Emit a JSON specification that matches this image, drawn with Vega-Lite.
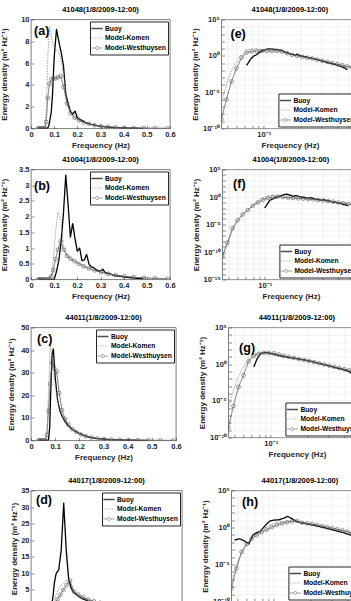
{
"$schema":"https://vega.github.io/schema/vega-lite/v6.json",
"padding":{"left":0,"top":5.5,"right":0,"bottom":0},
"config":{
 "background":"#ffffff",
 "font":"Liberation Sans",
 "view":{"stroke":"#262626","strokeWidth":0.6},
 "title":{"font":"Liberation Sans","fontSize":7.5,"fontWeight":"bold","color":"#000000","offset":2,"anchor":"middle","frame":"group"},
 "axis":{"labelFont":"Liberation Sans","labelFontSize":7.5,"labelFontWeight":"bold","labelColor":"#262626","titleFont":"Liberation Sans","titleFontSize":8,"titleFontWeight":"bold","titleColor":"#262626","domain":false,"ticks":true,"tickColor":"#262626","tickSize":-3,"tickWidth":0.5,"labelPadding":5,"labelFlush":false,"labelOverlap":false,"grid":false,"gridColor":"#e2e2e2","gridWidth":0.5,"tickCount":40},
 "axisX":{"titlePadding":3},
 "legend":{"labelFont":"Liberation Sans","labelFontSize":6.7,"labelFontWeight":"bold","labelColor":"#000000","padding":2,"offset":2,"strokeColor":"#262626","fillColor":"#ffffff","symbolSize":64,"symbolStrokeWidth":0.8,"rowPadding":1,"labelOffset":3}
},
"datasets":{
"st41048":[
{"s":"Buoy","f":0.0325,"E":0},{"s":"Buoy","f":0.0375,"E":0},{"s":"Buoy","f":0.0425,"E":0},{"s":"Buoy","f":0.0475,"E":0},{"s":"Buoy","f":0.0525,"E":0},{"s":"Buoy","f":0.0575,"E":0},{"s":"Buoy","f":0.0625,"E":0},{"s":"Buoy","f":0.0675,"E":0},{"s":"Buoy","f":0.0725,"E":0.05},{"s":"Buoy","f":0.0775,"E":0.3},{"s":"Buoy","f":0.0825,"E":0.9},{"s":"Buoy","f":0.0875,"E":1.5},{"s":"Buoy","f":0.0925,"E":3},{"s":"Buoy","f":0.1,"E":6.5},{"s":"Buoy","f":0.11,"E":9.1},{"s":"Buoy","f":0.12,"E":8},{"s":"Buoy","f":0.13,"E":7},{"s":"Buoy","f":0.14,"E":5.8},{"s":"Buoy","f":0.15,"E":3.2},{"s":"Buoy","f":0.16,"E":2.3},{"s":"Buoy","f":0.17,"E":1.6},{"s":"Buoy","f":0.18,"E":1.3},{"s":"Buoy","f":0.19,"E":1.6},{"s":"Buoy","f":0.2,"E":1},{"s":"Buoy","f":0.21,"E":0.85},{"s":"Buoy","f":0.22,"E":0.75},{"s":"Buoy","f":0.23,"E":0.6},{"s":"Buoy","f":0.24,"E":0.5},{"s":"Buoy","f":0.25,"E":0.45},{"s":"Buoy","f":0.26,"E":0.38},{"s":"Buoy","f":0.27,"E":0.33},{"s":"Buoy","f":0.28,"E":0.28},{"s":"Buoy","f":0.29,"E":0.24},{"s":"Buoy","f":0.3,"E":0.2},{"s":"Buoy","f":0.31,"E":0.18},{"s":"Buoy","f":0.32,"E":0.15},{"s":"Buoy","f":0.33,"E":0.13},{"s":"Buoy","f":0.34,"E":0.11},{"s":"Buoy","f":0.35,"E":0.1},{"s":"Buoy","f":0.365,"E":0.085},{"s":"Buoy","f":0.385,"E":0.065},{"s":"Buoy","f":0.405,"E":0.05},{"s":"Buoy","f":0.425,"E":0.038},{"s":"Buoy","f":0.445,"E":0.028},{"s":"Buoy","f":0.465,"E":0.02},{"s":"Buoy","f":0.485,"E":0.012},
{"s":"Model-Komen","f":0.0307,"E":1e-13},{"s":"Model-Komen","f":0.0338,"E":1e-12},{"s":"Model-Komen","f":0.0371,"E":1e-10},{"s":"Model-Komen","f":0.0409,"E":1e-8},{"s":"Model-Komen","f":0.0449,"E":3e-7},{"s":"Model-Komen","f":0.0494,"E":1e-4},{"s":"Model-Komen","f":0.0544,"E":0.01},{"s":"Model-Komen","f":0.0598,"E":0.15},{"s":"Model-Komen","f":0.0658,"E":1.5},{"s":"Model-Komen","f":0.0724,"E":6.5},{"s":"Model-Komen","f":0.0796,"E":9.4},{"s":"Model-Komen","f":0.0876,"E":8.5},{"s":"Model-Komen","f":0.0963,"E":7.6},{"s":"Model-Komen","f":0.106,"E":7.3},{"s":"Model-Komen","f":0.1166,"E":7.1},{"s":"Model-Komen","f":0.1282,"E":6.5},{"s":"Model-Komen","f":0.1411,"E":4.8},{"s":"Model-Komen","f":0.1552,"E":2.5},{"s":"Model-Komen","f":0.1707,"E":1.5},{"s":"Model-Komen","f":0.1878,"E":1.05},{"s":"Model-Komen","f":0.2065,"E":0.8},{"s":"Model-Komen","f":0.2272,"E":0.6},{"s":"Model-Komen","f":0.2499,"E":0.45},{"s":"Model-Komen","f":0.2749,"E":0.31},{"s":"Model-Komen","f":0.3024,"E":0.21},{"s":"Model-Komen","f":0.3326,"E":0.14},{"s":"Model-Komen","f":0.3659,"E":0.095},{"s":"Model-Komen","f":0.4025,"E":0.062},{"s":"Model-Komen","f":0.4427,"E":0.04},{"s":"Model-Komen","f":0.487,"E":0.027},{"s":"Model-Komen","f":0.5357,"E":0.018},{"s":"Model-Komen","f":0.5893,"E":0.012},
{"s":"Model-Westhuysen","f":0.0307,"E":1e-14},{"s":"Model-Westhuysen","f":0.0338,"E":1e-13},{"s":"Model-Westhuysen","f":0.0371,"E":1e-12},{"s":"Model-Westhuysen","f":0.0409,"E":1e-11},{"s":"Model-Westhuysen","f":0.0449,"E":2e-9},{"s":"Model-Westhuysen","f":0.0494,"E":1e-6},{"s":"Model-Westhuysen","f":0.0544,"E":3e-4},{"s":"Model-Westhuysen","f":0.0598,"E":0.02},{"s":"Model-Westhuysen","f":0.0658,"E":0.6},{"s":"Model-Westhuysen","f":0.0724,"E":2.8},{"s":"Model-Westhuysen","f":0.0796,"E":4.1},{"s":"Model-Westhuysen","f":0.0876,"E":4.5},{"s":"Model-Westhuysen","f":0.0963,"E":4.6},{"s":"Model-Westhuysen","f":0.106,"E":4.6},{"s":"Model-Westhuysen","f":0.1166,"E":4.7},{"s":"Model-Westhuysen","f":0.1282,"E":4.8},{"s":"Model-Westhuysen","f":0.1411,"E":3.8},{"s":"Model-Westhuysen","f":0.1552,"E":2.3},{"s":"Model-Westhuysen","f":0.1707,"E":1.4},{"s":"Model-Westhuysen","f":0.1878,"E":1},{"s":"Model-Westhuysen","f":0.2065,"E":0.75},{"s":"Model-Westhuysen","f":0.2272,"E":0.55},{"s":"Model-Westhuysen","f":0.2499,"E":0.42},{"s":"Model-Westhuysen","f":0.2749,"E":0.3},{"s":"Model-Westhuysen","f":0.3024,"E":0.21},{"s":"Model-Westhuysen","f":0.3326,"E":0.15},{"s":"Model-Westhuysen","f":0.3659,"E":0.1},{"s":"Model-Westhuysen","f":0.4025,"E":0.07},{"s":"Model-Westhuysen","f":0.4427,"E":0.05},{"s":"Model-Westhuysen","f":0.487,"E":0.035},{"s":"Model-Westhuysen","f":0.5357,"E":0.025},{"s":"Model-Westhuysen","f":0.5893,"E":0.018}
],
"st41004":[
{"s":"Buoy","f":0.0325,"E":0},{"s":"Buoy","f":0.0425,"E":0},{"s":"Buoy","f":0.0525,"E":0},{"s":"Buoy","f":0.0625,"E":0},{"s":"Buoy","f":0.0725,"E":0},{"s":"Buoy","f":0.0825,"E":0},{"s":"Buoy","f":0.0925,"E":0},{"s":"Buoy","f":0.1,"E":0.01},{"s":"Buoy","f":0.11,"E":0.25},{"s":"Buoy","f":0.12,"E":0.6},{"s":"Buoy","f":0.13,"E":1.2},{"s":"Buoy","f":0.14,"E":2.1},{"s":"Buoy","f":0.15,"E":3.32},{"s":"Buoy","f":0.16,"E":2.4},{"s":"Buoy","f":0.17,"E":1.35},{"s":"Buoy","f":0.18,"E":1.78},{"s":"Buoy","f":0.19,"E":1.3},{"s":"Buoy","f":0.2,"E":0.9},{"s":"Buoy","f":0.21,"E":1},{"s":"Buoy","f":0.22,"E":0.6},{"s":"Buoy","f":0.23,"E":0.62},{"s":"Buoy","f":0.24,"E":0.8},{"s":"Buoy","f":0.25,"E":0.5},{"s":"Buoy","f":0.26,"E":0.4},{"s":"Buoy","f":0.27,"E":0.38},{"s":"Buoy","f":0.28,"E":0.32},{"s":"Buoy","f":0.29,"E":0.28},{"s":"Buoy","f":0.3,"E":0.27},{"s":"Buoy","f":0.31,"E":0.33},{"s":"Buoy","f":0.32,"E":0.22},{"s":"Buoy","f":0.33,"E":0.2},{"s":"Buoy","f":0.34,"E":0.18},{"s":"Buoy","f":0.35,"E":0.15},{"s":"Buoy","f":0.365,"E":0.12},{"s":"Buoy","f":0.385,"E":0.1},{"s":"Buoy","f":0.405,"E":0.08},{"s":"Buoy","f":0.425,"E":0.06},{"s":"Buoy","f":0.445,"E":0.045},{"s":"Buoy","f":0.465,"E":0.035},{"s":"Buoy","f":0.485,"E":0.025},
{"s":"Model-Komen","f":0.0307,"E":1e-16},{"s":"Model-Komen","f":0.0338,"E":1e-15},{"s":"Model-Komen","f":0.0371,"E":1e-14},{"s":"Model-Komen","f":0.0409,"E":1e-13},{"s":"Model-Komen","f":0.0449,"E":1e-11},{"s":"Model-Komen","f":0.0494,"E":3e-9},{"s":"Model-Komen","f":0.0544,"E":1e-6},{"s":"Model-Komen","f":0.0598,"E":4e-5},{"s":"Model-Komen","f":0.0658,"E":6e-4},{"s":"Model-Komen","f":0.0724,"E":0.004},{"s":"Model-Komen","f":0.0796,"E":0.03},{"s":"Model-Komen","f":0.0876,"E":0.15},{"s":"Model-Komen","f":0.0963,"E":0.6},{"s":"Model-Komen","f":0.106,"E":1.5},{"s":"Model-Komen","f":0.1166,"E":2.15},{"s":"Model-Komen","f":0.1282,"E":1.9},{"s":"Model-Komen","f":0.1411,"E":1.05},{"s":"Model-Komen","f":0.1552,"E":0.8},{"s":"Model-Komen","f":0.1707,"E":0.68},{"s":"Model-Komen","f":0.1878,"E":0.6},{"s":"Model-Komen","f":0.2065,"E":0.52},{"s":"Model-Komen","f":0.2272,"E":0.44},{"s":"Model-Komen","f":0.2499,"E":0.37},{"s":"Model-Komen","f":0.2749,"E":0.3},{"s":"Model-Komen","f":0.3024,"E":0.24},{"s":"Model-Komen","f":0.3326,"E":0.18},{"s":"Model-Komen","f":0.3659,"E":0.13},{"s":"Model-Komen","f":0.4025,"E":0.095},{"s":"Model-Komen","f":0.4427,"E":0.068},{"s":"Model-Komen","f":0.487,"E":0.048},{"s":"Model-Komen","f":0.5357,"E":0.033},{"s":"Model-Komen","f":0.5893,"E":0.022},
{"s":"Model-Westhuysen","f":0.0307,"E":1e-16},{"s":"Model-Westhuysen","f":0.0338,"E":1e-15},{"s":"Model-Westhuysen","f":0.0371,"E":1e-14},{"s":"Model-Westhuysen","f":0.0409,"E":1e-13},{"s":"Model-Westhuysen","f":0.0449,"E":2e-11},{"s":"Model-Westhuysen","f":0.0494,"E":5e-9},{"s":"Model-Westhuysen","f":0.0544,"E":2e-6},{"s":"Model-Westhuysen","f":0.0598,"E":6e-5},{"s":"Model-Westhuysen","f":0.0658,"E":7e-4},{"s":"Model-Westhuysen","f":0.0724,"E":0.004},{"s":"Model-Westhuysen","f":0.0796,"E":0.025},{"s":"Model-Westhuysen","f":0.0876,"E":0.1},{"s":"Model-Westhuysen","f":0.0963,"E":0.3},{"s":"Model-Westhuysen","f":0.106,"E":0.65},{"s":"Model-Westhuysen","f":0.1166,"E":0.95},{"s":"Model-Westhuysen","f":0.1282,"E":1.22},{"s":"Model-Westhuysen","f":0.1411,"E":0.95},{"s":"Model-Westhuysen","f":0.1552,"E":0.75},{"s":"Model-Westhuysen","f":0.1707,"E":0.66},{"s":"Model-Westhuysen","f":0.1878,"E":0.58},{"s":"Model-Westhuysen","f":0.2065,"E":0.5},{"s":"Model-Westhuysen","f":0.2272,"E":0.42},{"s":"Model-Westhuysen","f":0.2499,"E":0.35},{"s":"Model-Westhuysen","f":0.2749,"E":0.29},{"s":"Model-Westhuysen","f":0.3024,"E":0.23},{"s":"Model-Westhuysen","f":0.3326,"E":0.18},{"s":"Model-Westhuysen","f":0.3659,"E":0.14},{"s":"Model-Westhuysen","f":0.4025,"E":0.1},{"s":"Model-Westhuysen","f":0.4427,"E":0.075},{"s":"Model-Westhuysen","f":0.487,"E":0.055},{"s":"Model-Westhuysen","f":0.5357,"E":0.038},{"s":"Model-Westhuysen","f":0.5893,"E":0.025}
],
"st44011":[
{"s":"Buoy","f":0.0325,"E":0},{"s":"Buoy","f":0.0425,"E":0},{"s":"Buoy","f":0.0525,"E":0},{"s":"Buoy","f":0.0625,"E":0},{"s":"Buoy","f":0.0675,"E":0},{"s":"Buoy","f":0.0725,"E":0.4},{"s":"Buoy","f":0.0775,"E":6},{"s":"Buoy","f":0.0825,"E":25},{"s":"Buoy","f":0.0875,"E":38},{"s":"Buoy","f":0.0925,"E":40.5},{"s":"Buoy","f":0.1,"E":28},{"s":"Buoy","f":0.11,"E":18},{"s":"Buoy","f":0.12,"E":13},{"s":"Buoy","f":0.13,"E":10.5},{"s":"Buoy","f":0.14,"E":8.5},{"s":"Buoy","f":0.15,"E":7},{"s":"Buoy","f":0.16,"E":6},{"s":"Buoy","f":0.17,"E":5},{"s":"Buoy","f":0.18,"E":4.3},{"s":"Buoy","f":0.19,"E":3.7},{"s":"Buoy","f":0.2,"E":3.1},{"s":"Buoy","f":0.21,"E":2.6},{"s":"Buoy","f":0.22,"E":2.2},{"s":"Buoy","f":0.23,"E":1.8},{"s":"Buoy","f":0.24,"E":1.5},{"s":"Buoy","f":0.25,"E":1.3},{"s":"Buoy","f":0.26,"E":1.1},{"s":"Buoy","f":0.27,"E":0.95},{"s":"Buoy","f":0.28,"E":0.82},{"s":"Buoy","f":0.29,"E":0.7},{"s":"Buoy","f":0.3,"E":0.6},{"s":"Buoy","f":0.32,"E":0.45},{"s":"Buoy","f":0.34,"E":0.35},{"s":"Buoy","f":0.365,"E":0.26},{"s":"Buoy","f":0.385,"E":0.2},{"s":"Buoy","f":0.405,"E":0.15},{"s":"Buoy","f":0.425,"E":0.12},{"s":"Buoy","f":0.445,"E":0.09},{"s":"Buoy","f":0.465,"E":0.05},{"s":"Buoy","f":0.485,"E":0.03},
{"s":"Model-Komen","f":0.0307,"E":1e-14},{"s":"Model-Komen","f":0.0338,"E":1e-13},{"s":"Model-Komen","f":0.0371,"E":1e-11},{"s":"Model-Komen","f":0.0409,"E":1e-9},{"s":"Model-Komen","f":0.0449,"E":1e-6},{"s":"Model-Komen","f":0.0494,"E":3e-4},{"s":"Model-Komen","f":0.0544,"E":0.02},{"s":"Model-Komen","f":0.0598,"E":0.4},{"s":"Model-Komen","f":0.0658,"E":4},{"s":"Model-Komen","f":0.0724,"E":22},{"s":"Model-Komen","f":0.0796,"E":42},{"s":"Model-Komen","f":0.0876,"E":38},{"s":"Model-Komen","f":0.0963,"E":28},{"s":"Model-Komen","f":0.106,"E":20},{"s":"Model-Komen","f":0.1166,"E":15},{"s":"Model-Komen","f":0.1282,"E":11.5},{"s":"Model-Komen","f":0.1411,"E":9},{"s":"Model-Komen","f":0.1552,"E":6.8},{"s":"Model-Komen","f":0.1707,"E":5},{"s":"Model-Komen","f":0.1878,"E":3.7},{"s":"Model-Komen","f":0.2065,"E":2.6},{"s":"Model-Komen","f":0.2272,"E":1.8},{"s":"Model-Komen","f":0.2499,"E":1.25},{"s":"Model-Komen","f":0.2749,"E":0.87},{"s":"Model-Komen","f":0.3024,"E":0.6},{"s":"Model-Komen","f":0.3326,"E":0.41},{"s":"Model-Komen","f":0.3659,"E":0.28},{"s":"Model-Komen","f":0.4025,"E":0.19},{"s":"Model-Komen","f":0.4427,"E":0.13},{"s":"Model-Komen","f":0.487,"E":0.09},{"s":"Model-Komen","f":0.5357,"E":0.06},{"s":"Model-Komen","f":0.5893,"E":0.04},
{"s":"Model-Westhuysen","f":0.0307,"E":1e-15},{"s":"Model-Westhuysen","f":0.0338,"E":1e-14},{"s":"Model-Westhuysen","f":0.0371,"E":1e-13},{"s":"Model-Westhuysen","f":0.0409,"E":1e-11},{"s":"Model-Westhuysen","f":0.0449,"E":2e-9},{"s":"Model-Westhuysen","f":0.0494,"E":2e-6},{"s":"Model-Westhuysen","f":0.0544,"E":8e-4},{"s":"Model-Westhuysen","f":0.0598,"E":0.03},{"s":"Model-Westhuysen","f":0.0658,"E":2.5},{"s":"Model-Westhuysen","f":0.0724,"E":13},{"s":"Model-Westhuysen","f":0.0796,"E":25},{"s":"Model-Westhuysen","f":0.0876,"E":34.5},{"s":"Model-Westhuysen","f":0.0963,"E":32},{"s":"Model-Westhuysen","f":0.106,"E":30.5},{"s":"Model-Westhuysen","f":0.1166,"E":21},{"s":"Model-Westhuysen","f":0.1282,"E":13.5},{"s":"Model-Westhuysen","f":0.1411,"E":9.5},{"s":"Model-Westhuysen","f":0.1552,"E":7},{"s":"Model-Westhuysen","f":0.1707,"E":5},{"s":"Model-Westhuysen","f":0.1878,"E":3.8},{"s":"Model-Westhuysen","f":0.2065,"E":2.7},{"s":"Model-Westhuysen","f":0.2272,"E":1.9},{"s":"Model-Westhuysen","f":0.2499,"E":1.3},{"s":"Model-Westhuysen","f":0.2749,"E":0.9},{"s":"Model-Westhuysen","f":0.3024,"E":0.62},{"s":"Model-Westhuysen","f":0.3326,"E":0.43},{"s":"Model-Westhuysen","f":0.3659,"E":0.3},{"s":"Model-Westhuysen","f":0.4025,"E":0.21},{"s":"Model-Westhuysen","f":0.4427,"E":0.15},{"s":"Model-Westhuysen","f":0.487,"E":0.1},{"s":"Model-Westhuysen","f":0.5357,"E":0.07},{"s":"Model-Westhuysen","f":0.5893,"E":0.05}
],
"st44017":[
{"s":"Buoy","f":0.0325,"E":0},{"s":"Buoy","f":0.0425,"E":0},{"s":"Buoy","f":0.0475,"E":0.02},{"s":"Buoy","f":0.0525,"E":0.03},{"s":"Buoy","f":0.0575,"E":0.015},{"s":"Buoy","f":0.0625,"E":0.006},{"s":"Buoy","f":0.0675,"E":0.1},{"s":"Buoy","f":0.0725,"E":0.2},{"s":"Buoy","f":0.0775,"E":0.3},{"s":"Buoy","f":0.0825,"E":1},{"s":"Buoy","f":0.0875,"E":3},{"s":"Buoy","f":0.0925,"E":7},{"s":"Buoy","f":0.1,"E":10},{"s":"Buoy","f":0.11,"E":11},{"s":"Buoy","f":0.12,"E":17},{"s":"Buoy","f":0.13,"E":31.2},{"s":"Buoy","f":0.14,"E":17},{"s":"Buoy","f":0.15,"E":8},{"s":"Buoy","f":0.16,"E":5.5},{"s":"Buoy","f":0.17,"E":4.2},{"s":"Buoy","f":0.18,"E":3.6},{"s":"Buoy","f":0.19,"E":3},{"s":"Buoy","f":0.2,"E":2.5},{"s":"Buoy","f":0.21,"E":2.2},{"s":"Buoy","f":0.22,"E":1.85},{"s":"Buoy","f":0.23,"E":1.55},{"s":"Buoy","f":0.24,"E":1.3},{"s":"Buoy","f":0.25,"E":1.1},{"s":"Buoy","f":0.26,"E":0.95},{"s":"Buoy","f":0.27,"E":0.82},{"s":"Buoy","f":0.28,"E":0.7},{"s":"Buoy","f":0.29,"E":0.6},{"s":"Buoy","f":0.3,"E":0.52},{"s":"Buoy","f":0.32,"E":0.4},{"s":"Buoy","f":0.34,"E":0.3},{"s":"Buoy","f":0.365,"E":0.22},{"s":"Buoy","f":0.385,"E":0.17},{"s":"Buoy","f":0.405,"E":0.13},{"s":"Buoy","f":0.425,"E":0.1},{"s":"Buoy","f":0.445,"E":0.08},{"s":"Buoy","f":0.465,"E":0.06},{"s":"Buoy","f":0.485,"E":0.045},
{"s":"Model-Komen","f":0.0307,"E":1e-14},{"s":"Model-Komen","f":0.0338,"E":1e-13},{"s":"Model-Komen","f":0.0371,"E":1e-12},{"s":"Model-Komen","f":0.0409,"E":1e-10},{"s":"Model-Komen","f":0.0449,"E":3e-8},{"s":"Model-Komen","f":0.0494,"E":1e-5},{"s":"Model-Komen","f":0.0544,"E":3e-4},{"s":"Model-Komen","f":0.0598,"E":0.004},{"s":"Model-Komen","f":0.0658,"E":0.03},{"s":"Model-Komen","f":0.0724,"E":0.12},{"s":"Model-Komen","f":0.0796,"E":0.45},{"s":"Model-Komen","f":0.0876,"E":1.2},{"s":"Model-Komen","f":0.0963,"E":2.8},{"s":"Model-Komen","f":0.106,"E":4.8},{"s":"Model-Komen","f":0.1166,"E":6.2},{"s":"Model-Komen","f":0.1282,"E":7},{"s":"Model-Komen","f":0.1411,"E":8.1},{"s":"Model-Komen","f":0.1552,"E":5.5},{"s":"Model-Komen","f":0.1707,"E":4},{"s":"Model-Komen","f":0.1878,"E":3.3},{"s":"Model-Komen","f":0.2065,"E":2.6},{"s":"Model-Komen","f":0.2272,"E":2},{"s":"Model-Komen","f":0.2499,"E":1.5},{"s":"Model-Komen","f":0.2749,"E":1.1},{"s":"Model-Komen","f":0.3024,"E":0.78},{"s":"Model-Komen","f":0.3326,"E":0.55},{"s":"Model-Komen","f":0.3659,"E":0.38},{"s":"Model-Komen","f":0.4025,"E":0.26},{"s":"Model-Komen","f":0.4427,"E":0.17},{"s":"Model-Komen","f":0.487,"E":0.11},{"s":"Model-Komen","f":0.5357,"E":0.075},{"s":"Model-Komen","f":0.5893,"E":0.05},
{"s":"Model-Westhuysen","f":0.0307,"E":1e-15},{"s":"Model-Westhuysen","f":0.0338,"E":1e-14},{"s":"Model-Westhuysen","f":0.0371,"E":1e-13},{"s":"Model-Westhuysen","f":0.0409,"E":1e-11},{"s":"Model-Westhuysen","f":0.0449,"E":6e-9},{"s":"Model-Westhuysen","f":0.0494,"E":3e-6},{"s":"Model-Westhuysen","f":0.0544,"E":5e-4},{"s":"Model-Westhuysen","f":0.0598,"E":0.006},{"s":"Model-Westhuysen","f":0.0658,"E":0.03},{"s":"Model-Westhuysen","f":0.0724,"E":0.09},{"s":"Model-Westhuysen","f":0.0796,"E":0.25},{"s":"Model-Westhuysen","f":0.0876,"E":0.5},{"s":"Model-Westhuysen","f":0.0963,"E":1.1},{"s":"Model-Westhuysen","f":0.106,"E":2.2},{"s":"Model-Westhuysen","f":0.1166,"E":3.5},{"s":"Model-Westhuysen","f":0.1282,"E":5},{"s":"Model-Westhuysen","f":0.1411,"E":6.5},{"s":"Model-Westhuysen","f":0.1552,"E":7.8},{"s":"Model-Westhuysen","f":0.1707,"E":4.5},{"s":"Model-Westhuysen","f":0.1878,"E":3.6},{"s":"Model-Westhuysen","f":0.2065,"E":2.8},{"s":"Model-Westhuysen","f":0.2272,"E":2.1},{"s":"Model-Westhuysen","f":0.2499,"E":1.55},{"s":"Model-Westhuysen","f":0.2749,"E":1.12},{"s":"Model-Westhuysen","f":0.3024,"E":0.8},{"s":"Model-Westhuysen","f":0.3326,"E":0.56},{"s":"Model-Westhuysen","f":0.3659,"E":0.39},{"s":"Model-Westhuysen","f":0.4025,"E":0.27},{"s":"Model-Westhuysen","f":0.4427,"E":0.18},{"s":"Model-Westhuysen","f":0.487,"E":0.12},{"s":"Model-Westhuysen","f":0.5357,"E":0.08},{"s":"Model-Westhuysen","f":0.5893,"E":0.055}
]
},
"resolve":{"scale":{"color":"independent","strokeDash":"independent","strokeWidth":"independent","shape":"independent"},"legend":{"color":"independent","strokeDash":"independent","strokeWidth":"independent","shape":"independent"}},
"spacing":6,
"vconcat":[
{"hconcat":[
 {"title":"41048(1/8/2009-12:00)","width":139,"height":109,"data":{"name":"st41048"},"layer":[
  {"mark":{"type":"line","clip":true,"strokeJoin":"round"},"encoding":{
   "x":{"field":"f","type":"quantitative","scale":{"domain":[0,0.6],"nice":false,"zero":false},"axis":{"values":[0,0.1,0.2,0.3,0.4,0.5,0.6],"tickCount":40,"labelExpr":"'' + datum.value","labelOverlap":false,"title":"Frequency (Hz)"}},
   "y":{"field":"E","type":"quantitative","scale":{"domain":[0,10],"nice":false},"axis":{"values":[0,2,4,6,8,10],"tickCount":40,"labelExpr":"'' + datum.value","labelOverlap":false,"title":"Energy density (m² Hz⁻¹)","titlePadding":11.7}},
   "color":{"field":"s","type":"nominal","scale":{"domain":["Buoy","Model-Komen","Model-Westhuysen"],"range":["#000000","#8c8c8c","#555555"]},"legend":{"orient":"top-right","title":null}},
   "strokeDash":{"field":"s","type":"nominal","scale":{"domain":["Buoy","Model-Komen","Model-Westhuysen"],"range":[[1,0],[1.5,1.2],[1,0]]},"legend":{"orient":"top-right","title":null}},
   "strokeWidth":{"field":"s","type":"nominal","scale":{"type":"ordinal","domain":["Buoy","Model-Komen","Model-Westhuysen"],"range":[1.3,0.8,0.8]},"legend":{"orient":"top-right","title":null}}}},
  {"transform":[{"filter":"datum.s == 'Model-Westhuysen'"}],"mark":{"type":"point","filled":false,"size":14,"strokeWidth":0.6,"color":"#555555","opacity":1,"clip":true},"encoding":{"x":{"field":"f","type":"quantitative"},"y":{"field":"E","type":"quantitative"}}},
  {"transform":[{"filter":"false"}],"mark":{"type":"point","filled":false},"encoding":{"x":{"field":"f","type":"quantitative"},"y":{"field":"E","type":"quantitative"},
   "color":{"field":"s","type":"nominal","scale":{"domain":["Buoy","Model-Komen","Model-Westhuysen"],"range":["#000000","#8c8c8c","#555555"]},"legend":{"orient":"top-right","title":null}},
   "shape":{"field":"s","type":"nominal","scale":{"domain":["Buoy","Model-Komen","Model-Westhuysen"],"range":["M-1.4,0H1.4","M-1.4,0H1.4","M-1.4,0H-0.38M0.38,0H1.4M0.38,0A0.38,0.38,0,1,1,-0.38,0A0.38,0.38,0,1,1,0.38,0"]},"legend":{"orient":"top-right","title":null}}}},
  {"data":{"values":[{"t":"(a)"}]},"mark":{"type":"text","font":"Liberation Sans","fontSize":12.5,"fontWeight":"bold","align":"left","baseline":"middle","color":"#000000"},"encoding":{"text":{"field":"t","type":"nominal"},"x":{"datum":0.013},"y":{"datum":8.9}}}
 ]},
 {"title":"41048(1/8/2009-12:00)","width":137,"height":109,"data":{"name":"st41048"},"layer":[
  {"transform":[{"filter":"datum.E > 0"}],"mark":{"type":"line","clip":true,"strokeJoin":"round"},"encoding":{
   "x":{"field":"f","type":"quantitative","scale":{"type":"log","domain":[0.0449,0.6],"nice":false},"axis":{"values":[0.05,0.06,0.07,0.08,0.09,0.1,0.2,0.3,0.4,0.5,0.6],"tickCount":40,"labelExpr":"datum.value == 0.1 ? '10⁻¹' : ''","labelOverlap":false,"grid":true,"title":"Frequency (Hz)"}},
   "y":{"field":"E","type":"quantitative","scale":{"type":"log","domain":[1e-10,100000],"nice":false},"axis":{"values":[100000,10000,1000,100,10,1,0.1,0.01,0.001,0.0001,1e-5,1e-6,1e-7,1e-8,1e-9,1e-10],"tickCount":40,"labelExpr":"abs(log(datum.value)/LN10 - 5) < 0.01 ? '10⁵' : (abs(log(datum.value)/LN10) < 0.01 ? '10⁰' : (abs(log(datum.value)/LN10 + 5) < 0.01 ? '10⁻⁵' : (abs(log(datum.value)/LN10 + 10) < 0.01 ? '10⁻¹⁰' : (abs(log(datum.value)/LN10 + 15) < 0.01 ? '10⁻¹⁵' : ''))))","labelOverlap":false,"grid":true,"title":"Energy density (m² Hz⁻¹)","titlePadding":2.7}},
   "color":{"field":"s","type":"nominal","scale":{"domain":["Buoy","Model-Komen","Model-Westhuysen"],"range":["#000000","#8c8c8c","#555555"]},"legend":{"orient":"bottom-right","title":null}},
   "strokeDash":{"field":"s","type":"nominal","scale":{"domain":["Buoy","Model-Komen","Model-Westhuysen"],"range":[[1,0],[1.5,1.2],[1,0]]},"legend":{"orient":"bottom-right","title":null}},
   "strokeWidth":{"field":"s","type":"nominal","scale":{"type":"ordinal","domain":["Buoy","Model-Komen","Model-Westhuysen"],"range":[1.3,0.8,0.8]},"legend":{"orient":"bottom-right","title":null}}}},
  {"transform":[{"filter":"datum.s == 'Model-Westhuysen' && datum.E > 0"}],"mark":{"type":"point","filled":false,"size":14,"strokeWidth":0.6,"color":"#555555","opacity":1,"clip":true},"encoding":{"x":{"field":"f","type":"quantitative"},"y":{"field":"E","type":"quantitative"}}},
  {"transform":[{"filter":"false"}],"mark":{"type":"point","filled":false},"encoding":{"x":{"field":"f","type":"quantitative"},"y":{"field":"E","type":"quantitative"},
   "color":{"field":"s","type":"nominal","scale":{"domain":["Buoy","Model-Komen","Model-Westhuysen"],"range":["#000000","#8c8c8c","#555555"]},"legend":{"orient":"bottom-right","title":null}},
   "shape":{"field":"s","type":"nominal","scale":{"domain":["Buoy","Model-Komen","Model-Westhuysen"],"range":["M-1.4,0H1.4","M-1.4,0H1.4","M-1.4,0H-0.38M0.38,0H1.4M0.38,0A0.38,0.38,0,1,1,-0.38,0A0.38,0.38,0,1,1,0.38,0"]},"legend":{"orient":"bottom-right","title":null}}}},
  {"data":{"values":[{"t":"(e)"}]},"mark":{"type":"text","font":"Liberation Sans","fontSize":12.5,"fontWeight":"bold","align":"left","baseline":"middle","color":"#000000"},"encoding":{"text":{"field":"t","type":"nominal"},"x":{"datum":0.0533},"y":{"datum":870}}}
 ]}
],"spacing":15.4,"resolve":{"scale":{"color":"independent","strokeDash":"independent","strokeWidth":"independent","shape":"independent"},"legend":{"color":"independent","strokeDash":"independent","strokeWidth":"independent","shape":"independent"}}},
{"vconcat":[
{"hconcat":[
 {"title":"41004(1/8/2009-12:00)","width":139,"height":110,"data":{"name":"st41004"},"layer":[
  {"mark":{"type":"line","clip":true,"strokeJoin":"round"},"encoding":{
   "x":{"field":"f","type":"quantitative","scale":{"domain":[0,0.6],"nice":false,"zero":false},"axis":{"values":[0,0.1,0.2,0.3,0.4,0.5,0.6],"tickCount":40,"labelExpr":"'' + datum.value","labelOverlap":false,"title":"Frequency (Hz)"}},
   "y":{"field":"E","type":"quantitative","scale":{"domain":[0,3.5],"nice":false},"axis":{"values":[0,0.5,1,1.5,2,2.5,3,3.5],"tickCount":40,"labelExpr":"'' + datum.value","labelOverlap":false,"title":"Energy density (m² Hz⁻¹)","titlePadding":9.6}},
   "color":{"field":"s","type":"nominal","scale":{"domain":["Buoy","Model-Komen","Model-Westhuysen"],"range":["#000000","#8c8c8c","#555555"]},"legend":{"orient":"top-right","title":null}},
   "strokeDash":{"field":"s","type":"nominal","scale":{"domain":["Buoy","Model-Komen","Model-Westhuysen"],"range":[[1,0],[1.5,1.2],[1,0]]},"legend":{"orient":"top-right","title":null}},
   "strokeWidth":{"field":"s","type":"nominal","scale":{"type":"ordinal","domain":["Buoy","Model-Komen","Model-Westhuysen"],"range":[1.3,0.8,0.8]},"legend":{"orient":"top-right","title":null}}}},
  {"transform":[{"filter":"datum.s == 'Model-Westhuysen'"}],"mark":{"type":"point","filled":false,"size":14,"strokeWidth":0.6,"color":"#555555","opacity":1,"clip":true},"encoding":{"x":{"field":"f","type":"quantitative"},"y":{"field":"E","type":"quantitative"}}},
  {"transform":[{"filter":"false"}],"mark":{"type":"point","filled":false},"encoding":{"x":{"field":"f","type":"quantitative"},"y":{"field":"E","type":"quantitative"},
   "color":{"field":"s","type":"nominal","scale":{"domain":["Buoy","Model-Komen","Model-Westhuysen"],"range":["#000000","#8c8c8c","#555555"]},"legend":{"orient":"top-right","title":null}},
   "shape":{"field":"s","type":"nominal","scale":{"domain":["Buoy","Model-Komen","Model-Westhuysen"],"range":["M-1.4,0H1.4","M-1.4,0H1.4","M-1.4,0H-0.38M0.38,0H1.4M0.38,0A0.38,0.38,0,1,1,-0.38,0A0.38,0.38,0,1,1,0.38,0"]},"legend":{"orient":"top-right","title":null}}}},
  {"data":{"values":[{"t":"(b)"}]},"mark":{"type":"text","font":"Liberation Sans","fontSize":12.5,"fontWeight":"bold","align":"left","baseline":"middle","color":"#000000"},"encoding":{"text":{"field":"t","type":"nominal"},"x":{"datum":0.013},"y":{"datum":2.97}}}
 ]},
 {"title":"41004(1/8/2009-12:00)","width":137,"height":110,"data":{"name":"st41004"},"layer":[
  {"transform":[{"filter":"datum.E > 0"}],"mark":{"type":"line","clip":true,"strokeJoin":"round"},"encoding":{
   "x":{"field":"f","type":"quantitative","scale":{"type":"log","domain":[0.0449,0.6],"nice":false},"axis":{"values":[0.05,0.06,0.07,0.08,0.09,0.1,0.2,0.3,0.4,0.5,0.6],"tickCount":40,"labelExpr":"datum.value == 0.1 ? '10⁻¹' : ''","labelOverlap":false,"grid":true,"title":"Frequency (Hz)"}},
   "y":{"field":"E","type":"quantitative","scale":{"type":"log","domain":[1e-15,100000],"nice":false},"axis":{"values":[100000,10000,1000,100,10,1,0.1,0.01,0.001,0.0001,1e-5,1e-6,1e-7,1e-8,1e-9,1e-10,1e-11,1e-12,1e-13,1e-14,1e-15],"tickCount":40,"labelExpr":"abs(log(datum.value)/LN10 - 5) < 0.01 ? '10⁵' : (abs(log(datum.value)/LN10) < 0.01 ? '10⁰' : (abs(log(datum.value)/LN10 + 5) < 0.01 ? '10⁻⁵' : (abs(log(datum.value)/LN10 + 10) < 0.01 ? '10⁻¹⁰' : (abs(log(datum.value)/LN10 + 15) < 0.01 ? '10⁻¹⁵' : ''))))","labelOverlap":false,"grid":true,"title":"Energy density (m² Hz⁻¹)","titlePadding":2.7}},
   "color":{"field":"s","type":"nominal","scale":{"domain":["Buoy","Model-Komen","Model-Westhuysen"],"range":["#000000","#8c8c8c","#555555"]},"legend":{"orient":"bottom-right","title":null}},
   "strokeDash":{"field":"s","type":"nominal","scale":{"domain":["Buoy","Model-Komen","Model-Westhuysen"],"range":[[1,0],[1.5,1.2],[1,0]]},"legend":{"orient":"bottom-right","title":null}},
   "strokeWidth":{"field":"s","type":"nominal","scale":{"type":"ordinal","domain":["Buoy","Model-Komen","Model-Westhuysen"],"range":[1.3,0.8,0.8]},"legend":{"orient":"bottom-right","title":null}}}},
  {"transform":[{"filter":"datum.s == 'Model-Westhuysen' && datum.E > 0"}],"mark":{"type":"point","filled":false,"size":14,"strokeWidth":0.6,"color":"#555555","opacity":1,"clip":true},"encoding":{"x":{"field":"f","type":"quantitative"},"y":{"field":"E","type":"quantitative"}}},
  {"transform":[{"filter":"false"}],"mark":{"type":"point","filled":false},"encoding":{"x":{"field":"f","type":"quantitative"},"y":{"field":"E","type":"quantitative"},
   "color":{"field":"s","type":"nominal","scale":{"domain":["Buoy","Model-Komen","Model-Westhuysen"],"range":["#000000","#8c8c8c","#555555"]},"legend":{"orient":"bottom-right","title":null}},
   "shape":{"field":"s","type":"nominal","scale":{"domain":["Buoy","Model-Komen","Model-Westhuysen"],"range":["M-1.4,0H1.4","M-1.4,0H1.4","M-1.4,0H-0.38M0.38,0H1.4M0.38,0A0.38,0.38,0,1,1,-0.38,0A0.38,0.38,0,1,1,0.38,0"]},"legend":{"orient":"bottom-right","title":null}}}},
  {"data":{"values":[{"t":"(f)"}]},"mark":{"type":"text","font":"Liberation Sans","fontSize":12.5,"fontWeight":"bold","align":"left","baseline":"middle","color":"#000000"},"encoding":{"text":{"field":"t","type":"nominal"},"x":{"datum":0.055},"y":{"datum":280}}}
 ]}
],"spacing":15.4,"resolve":{"scale":{"color":"independent","strokeDash":"independent","strokeWidth":"independent","shape":"independent"},"legend":{"color":"independent","strokeDash":"independent","strokeWidth":"independent","shape":"independent"}}},
{"vconcat":[
{"hconcat":[
 {"title":"44011(1/8/2009-12:00)","width":145,"height":113,"data":{"name":"st44011"},"layer":[
  {"mark":{"type":"line","clip":true,"strokeJoin":"round"},"encoding":{
   "x":{"field":"f","type":"quantitative","scale":{"domain":[0,0.6],"nice":false,"zero":false},"axis":{"values":[0,0.1,0.2,0.3,0.4,0.5,0.6],"tickCount":40,"labelExpr":"'' + datum.value","labelOverlap":false,"title":"Frequency (Hz)"}},
   "y":{"field":"E","type":"quantitative","scale":{"domain":[0,50],"nice":false},"axis":{"values":[0,10,20,30,40,50],"tickCount":40,"labelExpr":"'' + datum.value","labelOverlap":false,"title":"Energy density (m² Hz⁻¹)","titlePadding":4.7}},
   "color":{"field":"s","type":"nominal","scale":{"domain":["Buoy","Model-Komen","Model-Westhuysen"],"range":["#000000","#8c8c8c","#555555"]},"legend":{"orient":"top-right","title":null}},
   "strokeDash":{"field":"s","type":"nominal","scale":{"domain":["Buoy","Model-Komen","Model-Westhuysen"],"range":[[1,0],[1.5,1.2],[1,0]]},"legend":{"orient":"top-right","title":null}},
   "strokeWidth":{"field":"s","type":"nominal","scale":{"type":"ordinal","domain":["Buoy","Model-Komen","Model-Westhuysen"],"range":[1.3,0.8,0.8]},"legend":{"orient":"top-right","title":null}}}},
  {"transform":[{"filter":"datum.s == 'Model-Westhuysen'"}],"mark":{"type":"point","filled":false,"size":14,"strokeWidth":0.6,"color":"#555555","opacity":1,"clip":true},"encoding":{"x":{"field":"f","type":"quantitative"},"y":{"field":"E","type":"quantitative"}}},
  {"transform":[{"filter":"false"}],"mark":{"type":"point","filled":false},"encoding":{"x":{"field":"f","type":"quantitative"},"y":{"field":"E","type":"quantitative"},
   "color":{"field":"s","type":"nominal","scale":{"domain":["Buoy","Model-Komen","Model-Westhuysen"],"range":["#000000","#8c8c8c","#555555"]},"legend":{"orient":"top-right","title":null}},
   "shape":{"field":"s","type":"nominal","scale":{"domain":["Buoy","Model-Komen","Model-Westhuysen"],"range":["M-1.4,0H1.4","M-1.4,0H1.4","M-1.4,0H-0.38M0.38,0H1.4M0.38,0A0.38,0.38,0,1,1,-0.38,0A0.38,0.38,0,1,1,0.38,0"]},"legend":{"orient":"top-right","title":null}}}},
  {"data":{"values":[{"t":"(c)"}]},"mark":{"type":"text","font":"Liberation Sans","fontSize":12.5,"fontWeight":"bold","align":"left","baseline":"middle","color":"#000000"},"encoding":{"text":{"field":"t","type":"nominal"},"x":{"datum":0.025},"y":{"datum":44.9}}}
 ]},
 {"title":"44011(1/8/2009-12:00)","width":137,"height":110,"data":{"name":"st44011"},"layer":[
  {"transform":[{"filter":"datum.E > 0"}],"mark":{"type":"line","clip":true,"strokeJoin":"round"},"encoding":{
   "x":{"field":"f","type":"quantitative","scale":{"type":"log","domain":[0.0449,0.6],"nice":false},"axis":{"values":[0.05,0.06,0.07,0.08,0.09,0.1,0.2,0.3,0.4,0.5,0.6],"tickCount":40,"labelExpr":"datum.value == 0.1 ? '10⁻¹' : ''","labelOverlap":false,"grid":true,"title":"Frequency (Hz)"}},
   "y":{"field":"E","type":"quantitative","scale":{"type":"log","domain":[1e-10,100000],"nice":false},"axis":{"values":[100000,10000,1000,100,10,1,0.1,0.01,0.001,0.0001,1e-5,1e-6,1e-7,1e-8,1e-9,1e-10],"tickCount":40,"labelExpr":"abs(log(datum.value)/LN10 - 5) < 0.01 ? '10⁵' : (abs(log(datum.value)/LN10) < 0.01 ? '10⁰' : (abs(log(datum.value)/LN10 + 5) < 0.01 ? '10⁻⁵' : (abs(log(datum.value)/LN10 + 10) < 0.01 ? '10⁻¹⁰' : (abs(log(datum.value)/LN10 + 15) < 0.01 ? '10⁻¹⁵' : ''))))","labelOverlap":false,"grid":true,"title":"Energy density (m² Hz⁻¹)","titlePadding":2.7}},
   "color":{"field":"s","type":"nominal","scale":{"domain":["Buoy","Model-Komen","Model-Westhuysen"],"range":["#000000","#8c8c8c","#555555"]},"legend":{"orient":"bottom-right","title":null}},
   "strokeDash":{"field":"s","type":"nominal","scale":{"domain":["Buoy","Model-Komen","Model-Westhuysen"],"range":[[1,0],[1.5,1.2],[1,0]]},"legend":{"orient":"bottom-right","title":null}},
   "strokeWidth":{"field":"s","type":"nominal","scale":{"type":"ordinal","domain":["Buoy","Model-Komen","Model-Westhuysen"],"range":[1.3,0.8,0.8]},"legend":{"orient":"bottom-right","title":null}}}},
  {"transform":[{"filter":"datum.s == 'Model-Westhuysen' && datum.E > 0"}],"mark":{"type":"point","filled":false,"size":14,"strokeWidth":0.6,"color":"#555555","opacity":1,"clip":true},"encoding":{"x":{"field":"f","type":"quantitative"},"y":{"field":"E","type":"quantitative"}}},
  {"transform":[{"filter":"false"}],"mark":{"type":"point","filled":false},"encoding":{"x":{"field":"f","type":"quantitative"},"y":{"field":"E","type":"quantitative"},
   "color":{"field":"s","type":"nominal","scale":{"domain":["Buoy","Model-Komen","Model-Westhuysen"],"range":["#000000","#8c8c8c","#555555"]},"legend":{"orient":"bottom-right","title":null}},
   "shape":{"field":"s","type":"nominal","scale":{"domain":["Buoy","Model-Komen","Model-Westhuysen"],"range":["M-1.4,0H1.4","M-1.4,0H1.4","M-1.4,0H-0.38M0.38,0H1.4M0.38,0A0.38,0.38,0,1,1,-0.38,0A0.38,0.38,0,1,1,0.38,0"]},"legend":{"orient":"bottom-right","title":null}}}},
  {"data":{"values":[{"t":"(g)"}]},"mark":{"type":"text","font":"Liberation Sans","fontSize":12.5,"fontWeight":"bold","align":"left","baseline":"middle","color":"#000000"},"encoding":{"text":{"field":"t","type":"nominal"},"x":{"datum":0.055},"y":{"datum":186}}}
 ]}
],"spacing":16.4,"resolve":{"scale":{"color":"independent","strokeDash":"independent","strokeWidth":"independent","shape":"independent"},"legend":{"color":"independent","strokeDash":"independent","strokeWidth":"independent","shape":"independent"}}},
{"hconcat":[
 {"title":"44017(1/8/2009-12:00)","width":151,"height":116,"data":{"name":"st44017"},"layer":[
  {"mark":{"type":"line","clip":true,"strokeJoin":"round"},"encoding":{
   "x":{"field":"f","type":"quantitative","scale":{"domain":[0,0.6],"nice":false,"zero":false},"axis":{"values":[0,0.1,0.2,0.3,0.4,0.5,0.6],"tickCount":40,"labelExpr":"'' + datum.value","labelOverlap":false,"title":"Frequency (Hz)"}},
   "y":{"field":"E","type":"quantitative","scale":{"domain":[0,35],"nice":false},"axis":{"values":[0,5,10,15,20,25,30,35],"tickCount":40,"labelExpr":"'' + datum.value","labelOverlap":false,"title":"Energy density (m² Hz⁻¹)","titlePadding":1.7}},
   "color":{"field":"s","type":"nominal","scale":{"domain":["Buoy","Model-Komen","Model-Westhuysen"],"range":["#000000","#8c8c8c","#555555"]},"legend":{"orient":"top-right","title":null}},
   "strokeDash":{"field":"s","type":"nominal","scale":{"domain":["Buoy","Model-Komen","Model-Westhuysen"],"range":[[1,0],[1.5,1.2],[1,0]]},"legend":{"orient":"top-right","title":null}},
   "strokeWidth":{"field":"s","type":"nominal","scale":{"type":"ordinal","domain":["Buoy","Model-Komen","Model-Westhuysen"],"range":[1.3,0.8,0.8]},"legend":{"orient":"top-right","title":null}}}},
  {"transform":[{"filter":"datum.s == 'Model-Westhuysen'"}],"mark":{"type":"point","filled":false,"size":14,"strokeWidth":0.6,"color":"#555555","opacity":1,"clip":true},"encoding":{"x":{"field":"f","type":"quantitative"},"y":{"field":"E","type":"quantitative"}}},
  {"transform":[{"filter":"false"}],"mark":{"type":"point","filled":false},"encoding":{"x":{"field":"f","type":"quantitative"},"y":{"field":"E","type":"quantitative"},
   "color":{"field":"s","type":"nominal","scale":{"domain":["Buoy","Model-Komen","Model-Westhuysen"],"range":["#000000","#8c8c8c","#555555"]},"legend":{"orient":"top-right","title":null}},
   "shape":{"field":"s","type":"nominal","scale":{"domain":["Buoy","Model-Komen","Model-Westhuysen"],"range":["M-1.4,0H1.4","M-1.4,0H1.4","M-1.4,0H-0.38M0.38,0H1.4M0.38,0A0.38,0.38,0,1,1,-0.38,0A0.38,0.38,0,1,1,0.38,0"]},"legend":{"orient":"top-right","title":null}}}},
  {"data":{"values":[{"t":"(d)"}]},"mark":{"type":"text","font":"Liberation Sans","fontSize":12.5,"fontWeight":"bold","align":"left","baseline":"middle","color":"#000000"},"encoding":{"text":{"field":"t","type":"nominal"},"x":{"datum":0.02},"y":{"datum":32}}}
 ]},
 {"title":"44017(1/8/2009-12:00)","width":137,"height":111,"data":{"name":"st44017"},"layer":[
  {"transform":[{"filter":"datum.E > 0"}],"mark":{"type":"line","clip":true,"strokeJoin":"round"},"encoding":{
   "x":{"field":"f","type":"quantitative","scale":{"type":"log","domain":[0.0449,0.6],"nice":false},"axis":{"values":[0.05,0.06,0.07,0.08,0.09,0.1,0.2,0.3,0.4,0.5,0.6],"tickCount":40,"labelExpr":"datum.value == 0.1 ? '10⁻¹' : ''","labelOverlap":false,"grid":true,"title":"Frequency (Hz)"}},
   "y":{"field":"E","type":"quantitative","scale":{"type":"log","domain":[1e-10,100000],"nice":false},"axis":{"values":[100000,10000,1000,100,10,1,0.1,0.01,0.001,0.0001,1e-5,1e-6,1e-7,1e-8,1e-9,1e-10],"tickCount":40,"labelExpr":"abs(log(datum.value)/LN10 - 5) < 0.01 ? '10⁵' : (abs(log(datum.value)/LN10) < 0.01 ? '10⁰' : (abs(log(datum.value)/LN10 + 5) < 0.01 ? '10⁻⁵' : (abs(log(datum.value)/LN10 + 10) < 0.01 ? '10⁻¹⁰' : (abs(log(datum.value)/LN10 + 15) < 0.01 ? '10⁻¹⁵' : ''))))","labelOverlap":false,"grid":true,"title":"Energy density (m² Hz⁻¹)","titlePadding":2.7}},
   "color":{"field":"s","type":"nominal","scale":{"domain":["Buoy","Model-Komen","Model-Westhuysen"],"range":["#000000","#8c8c8c","#555555"]},"legend":{"orient":"bottom-right","title":null}},
   "strokeDash":{"field":"s","type":"nominal","scale":{"domain":["Buoy","Model-Komen","Model-Westhuysen"],"range":[[1,0],[1.5,1.2],[1,0]]},"legend":{"orient":"bottom-right","title":null}},
   "strokeWidth":{"field":"s","type":"nominal","scale":{"type":"ordinal","domain":["Buoy","Model-Komen","Model-Westhuysen"],"range":[1.3,0.8,0.8]},"legend":{"orient":"bottom-right","title":null}}}},
  {"transform":[{"filter":"datum.s == 'Model-Westhuysen' && datum.E > 0"}],"mark":{"type":"point","filled":false,"size":14,"strokeWidth":0.6,"color":"#555555","opacity":1,"clip":true},"encoding":{"x":{"field":"f","type":"quantitative"},"y":{"field":"E","type":"quantitative"}}},
  {"transform":[{"filter":"false"}],"mark":{"type":"point","filled":false},"encoding":{"x":{"field":"f","type":"quantitative"},"y":{"field":"E","type":"quantitative"},
   "color":{"field":"s","type":"nominal","scale":{"domain":["Buoy","Model-Komen","Model-Westhuysen"],"range":["#000000","#8c8c8c","#555555"]},"legend":{"orient":"bottom-right","title":null}},
   "shape":{"field":"s","type":"nominal","scale":{"domain":["Buoy","Model-Komen","Model-Westhuysen"],"range":["M-1.4,0H1.4","M-1.4,0H1.4","M-1.4,0H-0.38M0.38,0H1.4M0.38,0A0.38,0.38,0,1,1,-0.38,0A0.38,0.38,0,1,1,0.38,0"]},"legend":{"orient":"bottom-right","title":null}}}},
  {"data":{"values":[{"t":"(h)"}]},"mark":{"type":"text","font":"Liberation Sans","fontSize":12.5,"fontWeight":"bold","align":"left","baseline":"middle","color":"#000000"},"encoding":{"text":{"field":"t","type":"nominal"},"x":{"datum":0.055},"y":{"datum":3200}}}
 ]}
],"spacing":13.4,"resolve":{"scale":{"color":"independent","strokeDash":"independent","strokeWidth":"independent","shape":"independent"},"legend":{"color":"independent","strokeDash":"independent","strokeWidth":"independent","shape":"independent"}}}
],"spacing":15,"resolve":{"scale":{"color":"independent","strokeDash":"independent","strokeWidth":"independent","shape":"independent"},"legend":{"color":"independent","strokeDash":"independent","strokeWidth":"independent","shape":"independent"}}}
],"spacing":13,"resolve":{"scale":{"color":"independent","strokeDash":"independent","strokeWidth":"independent","shape":"independent"},"legend":{"color":"independent","strokeDash":"independent","strokeWidth":"independent","shape":"independent"}}}
]
}
